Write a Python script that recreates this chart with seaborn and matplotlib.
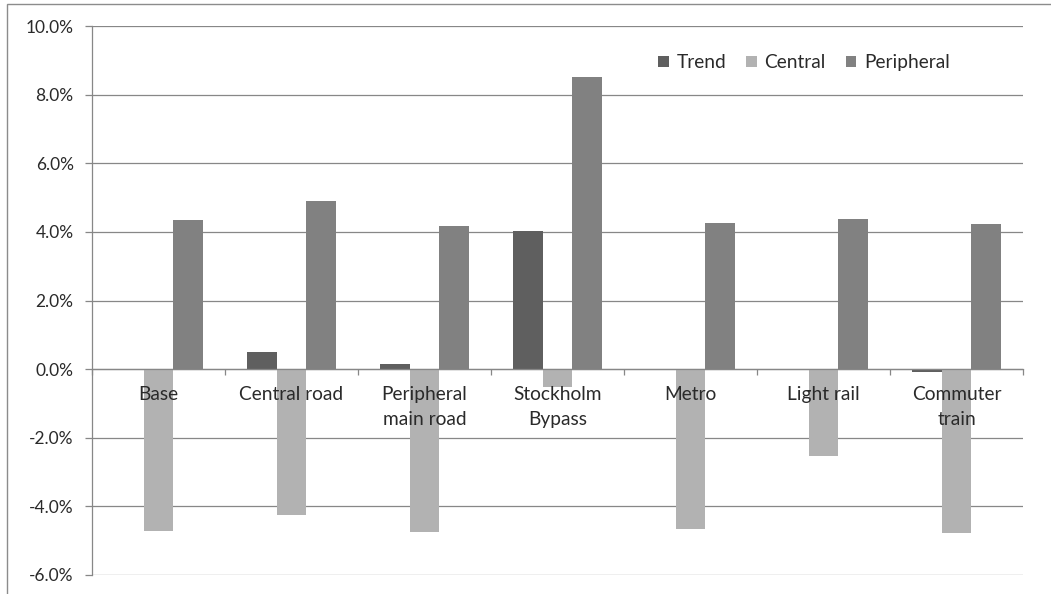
import matplotlib
matplotlib.use("Agg")
import matplotlib.pyplot as plt
from matplotlib.ticker import FuncFormatter, FixedLocator
from matplotlib.patches import Rectangle
import seaborn as sns
import pandas as pd

# Change in trips per scenario (percent)
scenarios = ["Base", "Central road", "Peripheral\nmain road", "Stockholm\nBypass",
             "Metro", "Light rail", "Commuter\ntrain"]
series_names = ["Trend", "Central", "Peripheral"]
trend = [0.0, 0.51, 0.16, 4.02, -0.03, 0.0, -0.07]
central = [-4.71, -4.25, -4.75, -0.52, -4.67, -2.54, -4.79]
peripheral = [4.34, 4.89, 4.16, 8.53, 4.26, 4.38, 4.23]
y_ticks = [-6, -4, -2, 0, 2, 4, 6, 8, 10]

colors = ["#5f5f5f", "#b2b2b2", "#818181"]
grid_color = "#878787"
text_color = "#2a2a2a"

df = pd.DataFrame({
    "scenario": scenarios * 3,
    "series": [s for s in series_names for _ in scenarios],
    "value": trend + central + peripheral,
})

sns.set_theme(style="white")
plt.rcParams["font.family"] = ["Lato", "DejaVu Sans"]
plt.rcParams["font.size"] = 12

fig = plt.figure(figsize=(10.51, 5.94), dpi=100)
ax = fig.add_axes([0.0873, 0.032, 0.9734 - 0.0873, 0.956 - 0.032])

sns.barplot(data=df, x="scenario", y="value", hue="series",
            order=scenarios, hue_order=series_names, palette=colors,
            width=0.665, gap=0, saturation=1, linewidth=0,
            ax=ax, legend=True)

ax.set_ylim(-6, 10)
ax.set_xlim(-0.5, len(scenarios) - 0.5)
ax.set_yticks(y_ticks)
ax.yaxis.set_major_formatter(FuncFormatter(lambda v, _: f"{v:.1f}%"))
ax.set_xlabel("")
ax.set_ylabel("")

# horizontal gridlines beneath the bars; category labels above them
ax.set_axisbelow(True)
ax.yaxis.grid(True, color=grid_color, linewidth=0.9)
ax.xaxis.grid(False)
ax.xaxis.set_zorder(3)

# category axis sits on the zero line
for side in ["top", "right"]:
    ax.spines[side].set_visible(False)
ax.spines["bottom"].set_position(("data", 0))
ax.spines["bottom"].set_color(grid_color)
ax.spines["bottom"].set_linewidth(0.9)
ax.spines["left"].set_color(grid_color)
ax.spines["left"].set_linewidth(0.9)

ax.tick_params(axis="y", which="major", direction="out", length=5,
               width=0.9, color=grid_color, pad=8, labelsize=12.5,
               labelcolor=text_color, left=True)
ax.tick_params(axis="x", which="major", length=0, pad=12, labelsize=13.8,
               labelcolor=text_color)
ax.xaxis.set_minor_locator(FixedLocator([i - 0.5 for i in range(len(scenarios) + 1)]))
ax.tick_params(axis="x", which="minor", direction="out", length=4,
               width=0.9, color=grid_color, bottom=True)
for lbl in ax.get_xticklabels():
    lbl.set_linespacing(1.55)

# legend in a single row at the upper right
handles, labels = ax.get_legend_handles_labels()
ax.legend(handles, labels, ncol=3, frameon=False, loc="center",
          bbox_to_anchor=(0.765, 0.894), bbox_transform=fig.transFigure,
          handlelength=0.55, handleheight=0.55, handletextpad=0.4,
          columnspacing=1.05, fontsize=13.8, labelcolor=text_color)

# outer chart border
fig.patches.append(Rectangle((7 / 1051, -0.05), 1.2, 1 - 4 / 594 + 0.05,
                             transform=fig.transFigure, fill=False,
                             edgecolor="#8c8c8c", linewidth=1.0))

fig.savefig("out.png", dpi=100, facecolor="white")
